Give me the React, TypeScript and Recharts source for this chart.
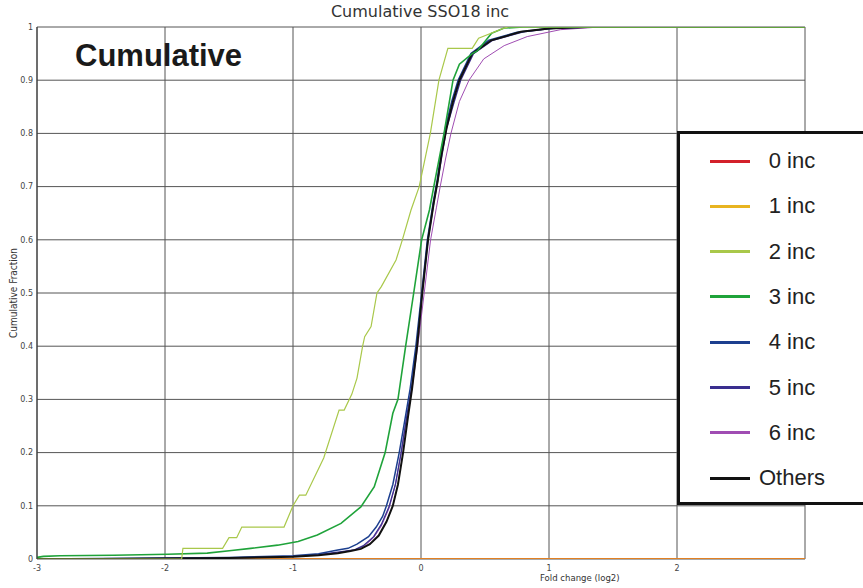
import { LineChart, Line, XAxis, YAxis, CartesianGrid } from 'recharts';

// Cumulative distribution of fold change (log2) per "inc" group.
// Every curve is a list of [foldChange, cumulativeFraction] points.

const X_TICKS = [-3, -2, -1, 0, 1, 2];
const Y_TICKS = [0, 0.1, 0.2, 0.3, 0.4, 0.5, 0.6, 0.7, 0.8, 0.9, 1];

const INC0: [number, number][] = [[-3, 0], [3, 0]];
const INC1: [number, number][] = [[-3, 0], [3, 0]];

const INC2: [number, number][] = [
  [-3, 0], [-1.87, 0], [-1.86, 0.02], [-1.55, 0.02], [-1.5, 0.04], [-1.44, 0.04],
  [-1.4, 0.06], [-1.07, 0.06], [-1.0, 0.1], [-0.95, 0.12], [-0.9, 0.12], [-0.76, 0.19],
  [-0.64, 0.28], [-0.6, 0.28], [-0.54, 0.31], [-0.5, 0.34], [-0.456, 0.4], [-0.44, 0.418],
  [-0.39, 0.437], [-0.344, 0.5], [-0.31, 0.512], [-0.195, 0.562], [-0.148, 0.598],
  [-0.078, 0.656], [-0.014, 0.7], [0.073, 0.8], [0.14, 0.9], [0.21, 0.96], [0.4, 0.96],
  [0.45, 0.979], [0.65, 0.998], [0.68, 1], [3, 1],
];

const INC3: [number, number][] = [
  [-3, 0.003], [-2.95, 0.005], [-2.82, 0.006], [-2.4, 0.007], [-1.98, 0.009],
  [-1.67, 0.011], [-1.48, 0.016], [-1.33, 0.02], [-1.12, 0.026], [-0.96, 0.033],
  [-0.81, 0.045], [-0.625, 0.067], [-0.47, 0.098], [-0.365, 0.136], [-0.28, 0.2],
  [-0.22, 0.274], [-0.18, 0.3], [-0.12, 0.4], [-0.057, 0.5], [0.005, 0.6], [0.066, 0.656],
  [0.1, 0.7], [0.18, 0.8], [0.25, 0.9], [0.3, 0.93], [0.4, 0.95], [0.44, 0.955],
  [0.55, 0.988], [0.65, 0.998], [0.8, 1], [3, 1],
];

const INC4: [number, number][] = [
  [-3, 0], [-2.5, 0.001], [-2, 0.002], [-1.5, 0.003], [-1, 0.006], [-0.8, 0.01],
  [-0.65, 0.017], [-0.57, 0.02], [-0.5, 0.028], [-0.41, 0.042], [-0.35, 0.06],
  [-0.3, 0.08], [-0.27, 0.1], [-0.22, 0.14], [-0.17, 0.2], [-0.12, 0.27], [-0.085, 0.32],
  [-0.04, 0.4], [0.005, 0.5], [0.05, 0.6], [0.095, 0.67], [0.125, 0.71], [0.155, 0.76],
  [0.19, 0.81], [0.24, 0.86], [0.29, 0.9], [0.39, 0.95], [0.53, 0.975], [0.75, 0.99],
  [1.0, 0.997], [1.3, 1], [3, 1],
];

const INC5: [number, number][] = [
  [-3, 0], [-2.5, 0], [-2, 0.001], [-1.5, 0.002], [-1, 0.005], [-0.8, 0.008],
  [-0.65, 0.013], [-0.52, 0.017], [-0.45, 0.025], [-0.37, 0.042], [-0.31, 0.065],
  [-0.25, 0.098], [-0.2, 0.14], [-0.155, 0.2], [-0.11, 0.27], [-0.075, 0.32],
  [-0.035, 0.4], [0.01, 0.5], [0.055, 0.6], [0.1, 0.67], [0.13, 0.71], [0.165, 0.76],
  [0.2, 0.81], [0.26, 0.86], [0.31, 0.9], [0.41, 0.95], [0.56, 0.975], [0.8, 0.991],
  [1.05, 0.998], [1.3, 1], [3, 1],
];

const INC6: [number, number][] = [
  [-3, 0], [-2.5, 0], [-2, 0.001], [-1.5, 0.002], [-1, 0.005], [-0.8, 0.008],
  [-0.65, 0.012], [-0.52, 0.017], [-0.44, 0.025], [-0.37, 0.04], [-0.31, 0.062],
  [-0.25, 0.095], [-0.2, 0.14], [-0.155, 0.2], [-0.11, 0.27], [-0.07, 0.32],
  [-0.025, 0.4], [0.025, 0.5], [0.075, 0.6], [0.12, 0.66], [0.15, 0.7], [0.19, 0.75],
  [0.234, 0.8], [0.3, 0.86], [0.375, 0.9], [0.49, 0.94], [0.65, 0.965], [0.83, 0.982],
  [1.09, 0.995], [1.4, 1], [3, 1],
];

const OTHERS: [number, number][] = [
  [-3, 0], [-2.5, 0], [-2, 0.001], [-1.5, 0.002], [-1, 0.004], [-0.8, 0.007],
  [-0.65, 0.011], [-0.55, 0.015], [-0.47, 0.019], [-0.4, 0.028], [-0.33, 0.044],
  [-0.27, 0.07], [-0.22, 0.1], [-0.18, 0.14], [-0.14, 0.2], [-0.1, 0.27], [-0.07, 0.32],
  [-0.03, 0.4], [0.01, 0.5], [0.055, 0.6], [0.1, 0.67], [0.13, 0.71], [0.16, 0.76],
  [0.2, 0.81], [0.25, 0.86], [0.3, 0.9], [0.4, 0.95], [0.55, 0.975], [0.78, 0.991],
  [1.0, 0.997], [1.3, 1], [3, 1],
];

const LABELS = ['0 inc', '1 inc', '2 inc', '3 inc', '4 inc', '5 inc', '6 inc', 'Others'];
const COLORS = ['#d3202a', '#e8b420', '#a9c84a', '#1fa33a', '#1c3f8f', '#3a2f8f', '#a04db3', '#111111'];
const WIDTHS = [2, 2, 1.2, 1.6, 1.5, 1.3, 1, 2];
const CURVES = [INC0, INC1, INC2, INC3, INC4, INC5, INC6, OTHERS];
// draw order (back to front): bottom lines, dark cluster, then greens on top
const DRAW_ORDER = [0, 1, 6, 5, 4, 7, 3, 2];

const toPoints = (c: [number, number][]) => c.map(([x, y]) => ({ x, y }));

const FONT = '"Liberation Sans", Arial, sans-serif';

function LegendBox() {
  return (
    <div
      style={{
        position: 'absolute',
        left: 677,
        top: 131,
        width: 200,
        height: 368,
        border: '3px solid #111',
        background: '#fff',
        fontFamily: FONT,
        fontSize: 22,
        color: '#222',
      }}
    >
      {LABELS.map((label, i) => (
        <div
          key={label}
          style={{ position: 'absolute', left: 30, top: 12 + i * 45.3, height: 30, display: 'flex', alignItems: 'center' }}
        >
          <span style={{ display: 'inline-block', width: 40, height: 3, background: COLORS[i] }} />
          <span style={{ display: 'inline-block', width: 84, textAlign: 'center' }}>{label}</span>
        </div>
      ))}
    </div>
  );
}

export default function App() {
  return (
    <div style={{ position: 'absolute', left: 0, top: 0, width: 863, height: 588, overflow: 'hidden', background: '#fff' }}>
      <LineChart width={863} height={588} margin={{ top: 27, right: 58, bottom: 9, left: 0 }}>
        <CartesianGrid stroke="#555" strokeWidth={1} />
        <XAxis
          type="number"
          dataKey="x"
          domain={[-3, 3]}
          ticks={X_TICKS}
          height={20}
          tickLine={false}
          axisLine={false}
          tick={{ fontSize: 8, fill: '#444', fontFamily: '"DejaVu Sans", sans-serif' }}
          tickMargin={0}
          allowDataOverflow
        />
        <YAxis
          type="number"
          dataKey="y"
          domain={[0, 1]}
          ticks={Y_TICKS}
          width={37}
          tickLine={false}
          tickSize={2}
          axisLine={{ stroke: '#333' }}
          tick={{ fontSize: 8, fill: '#444', fontFamily: '"DejaVu Sans", sans-serif' }}
          tickFormatter={(v: number) => String(+v.toFixed(1))}
          allowDataOverflow
        />
        {DRAW_ORDER.map((i) => (
          <Line
            key={LABELS[i]}
            data={toPoints(CURVES[i])}
            dataKey="y"
            name={LABELS[i]}
            type="linear"
            stroke={COLORS[i]}
            strokeWidth={WIDTHS[i]}
            strokeOpacity={i === 1 ? 0.65 : 1}
            dot={false}
            activeDot={false}
            isAnimationActive={false}
          />
        ))}
      </LineChart>

      <div
        style={{
          position: 'absolute', left: 0, width: 840, top: 2, textAlign: 'center',
          fontFamily: '"DejaVu Sans", sans-serif', fontSize: 16, color: '#333',
        }}
      >
        Cumulative SSO18 inc
      </div>
      <div
        style={{
          position: 'absolute', left: 75, top: 38, fontFamily: FONT, fontWeight: 'bold',
          fontSize: 31, color: '#1a1a1a',
        }}
      >
        Cumulative
      </div>
      <div
        style={{
          position: 'absolute', left: 13, top: 293, transform: 'translate(-50%, -50%) rotate(-90deg)',
          whiteSpace: 'nowrap', fontFamily: '"DejaVu Sans Condensed", "DejaVu Sans", sans-serif', fontSize: 10, color: '#333',
        }}
      >
        Cumulative Fraction
      </div>
      <div
        style={{
          position: 'absolute', left: 540, top: 572, whiteSpace: 'nowrap',
          fontFamily: '"Liberation Sans Narrow", "DejaVu Sans Condensed", sans-serif', fontSize: 9.5, color: '#333',
        }}
      >
        Fold change (log2)
      </div>
      <LegendBox />
    </div>
  );
}
